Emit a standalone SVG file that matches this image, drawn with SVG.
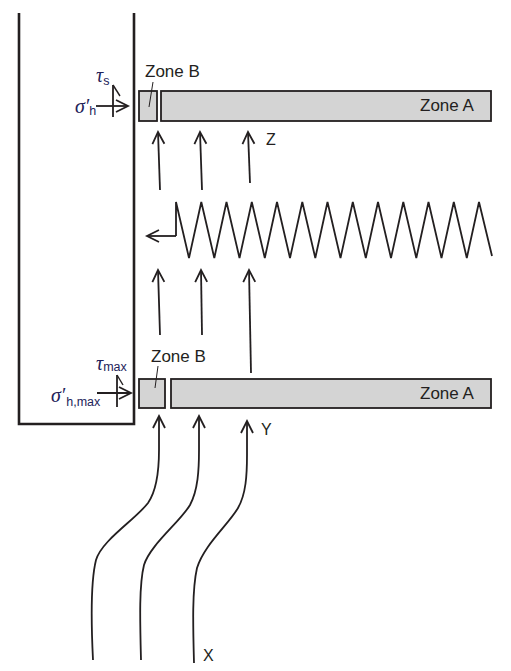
<svg xmlns="http://www.w3.org/2000/svg" width="511" height="671" viewBox="0 0 511 671">
<style>
  .ln { fill: none; stroke: #231f20; stroke-width: 1.8; stroke-linejoin: miter; }
  .wall { fill: none; stroke: #231f20; stroke-width: 2.6; }
  .zone { fill: #d4d4d4; stroke: #231f20; stroke-width: 1.8; }
  .lbl { font-family: "Liberation Sans", Arial, sans-serif; font-size: 17px; fill: #231f20; }
  .gk { font-family: "Liberation Serif", "Times New Roman", serif; font-style: italic; font-size: 20px; fill: #23235a; }
  .sub { font-family: "Liberation Sans", Arial, sans-serif; font-size: 12.5px; fill: #23235a; font-style: normal; }
  .lead { fill: none; stroke: #231f20; stroke-width: 1; }
  .hh { fill: none; stroke: #231f20; stroke-width: 1.4; }
</style>
<defs>
  <marker id="ah" markerUnits="userSpaceOnUse" orient="auto" refX="0" refY="0" markerWidth="20" markerHeight="20" viewBox="-15 -10 20 20" overflow="visible">
    <path d="M-12,-6 L0,0 L-12,6" fill="none" stroke="#231f20" stroke-width="1.8"/>
  </marker>
</defs>

<g id="wall">
  <path class="wall" d="M19,13 L19,424 L134,424 L134,13"/>
</g>

<g id="upper-zoneB">
  <rect class="zone" x="139" y="91" width="18" height="30"/>
  <text class="lbl" x="145" y="77">Zone B</text>
  <line class="lead" x1="153" y1="82" x2="149" y2="107"/>
</g>
<g id="upper-zoneA">
  <rect class="zone" x="161" y="91" width="330" height="30"/>
  <text class="lbl" x="420" y="111">Zone A</text>
</g>

<g id="lower-zoneB">
  <rect class="zone" x="139" y="379" width="26" height="29"/>
  <text class="lbl" x="151" y="362">Zone B</text>
  <line class="lead" x1="158" y1="366" x2="155" y2="388"/>
</g>
<g id="lower-zoneA">
  <rect class="zone" x="171" y="379" width="320" height="29"/>
  <text class="lbl" x="420" y="399">Zone A</text>
</g>

<g id="upper-stress">
  <line class="ln" x1="113" y1="117" x2="113" y2="85"/>
  <line class="hh" x1="113" y1="85" x2="120" y2="96"/>
  <line class="ln" x1="96" y1="106" x2="128" y2="106" marker-end="url(#ah)"/>
  <text class="gk" x="96" y="82">τ<tspan class="sub" dy="3">s</tspan></text>
  <text class="gk" x="75" y="113">σ′<tspan class="sub" dy="2">h</tspan></text>
</g>

<g id="lower-stress">
  <line class="ln" x1="117" y1="407" x2="117" y2="375"/>
  <line class="hh" x1="117" y1="375" x2="123" y2="385"/>
  <line class="ln" x1="97" y1="393" x2="131" y2="393" marker-end="url(#ah)"/>
  <text class="gk" x="96" y="370">τ<tspan class="sub" dy="1">max</tspan></text>
  <text class="gk" x="51" y="402">σ′<tspan class="sub" dx="1" dy="4">h,max</tspan></text>
</g>

<g id="spring">
  <path class="ln" d="M176,236 L176,202 L189,258 L201.3,202 L214.3,258 L226.5,202 L239.5,258 L251.8,202 L264.8,258 L277,202 L290,258 L302.3,202 L315.3,258 L327.5,202 L340.5,258 L352.8,202 L365.8,258 L378,202 L391,258 L403.3,202 L416.3,258 L428.5,202 L441.5,258 L453.8,202 L466.8,258 L479,202 L492,256"/>
</g>

<g id="labels">
  <text class="lbl" x="266" y="145" style="font-size:16px">Z</text>
  <text class="lbl" x="261" y="435" style="font-size:16px">Y</text>
  <text class="lbl" x="203" y="661" style="font-size:16px">X</text>
</g>

<g id="connectors">
  <line class="ln" x1="176" y1="236" x2="147" y2="236" marker-end="url(#ah)"/>
  <line class="ln" x1="160" y1="190" x2="158" y2="132" marker-end="url(#ah)"/>
  <line class="ln" x1="202" y1="190" x2="200" y2="132" marker-end="url(#ah)"/>
  <line class="ln" x1="250" y1="183" x2="248" y2="132" marker-end="url(#ah)"/>
  <line class="ln" x1="160" y1="335" x2="158" y2="270" marker-end="url(#ah)"/>
  <line class="ln" x1="202" y1="335" x2="201" y2="270" marker-end="url(#ah)"/>
  <line class="ln" x1="251" y1="373" x2="249" y2="270" marker-end="url(#ah)"/>
  <path class="ln" d="M93,660 C91,620 91,580 96,560 C102,540 135,520 148,503 C157,490 159,470 159,450 L159,416" marker-end="url(#ah)"/>
  <path class="ln" d="M141,660 C140,620 139,585 144,565 C150,545 180,522 190,505 C198,490 199,470 199,450 L199,416" marker-end="url(#ah)"/>
  <path class="ln" d="M194,663 C193,625 192,590 197,568 C204,545 228,525 238,508 C246,494 247,475 247,455 L247,421" marker-end="url(#ah)"/>
</g>
</svg>
